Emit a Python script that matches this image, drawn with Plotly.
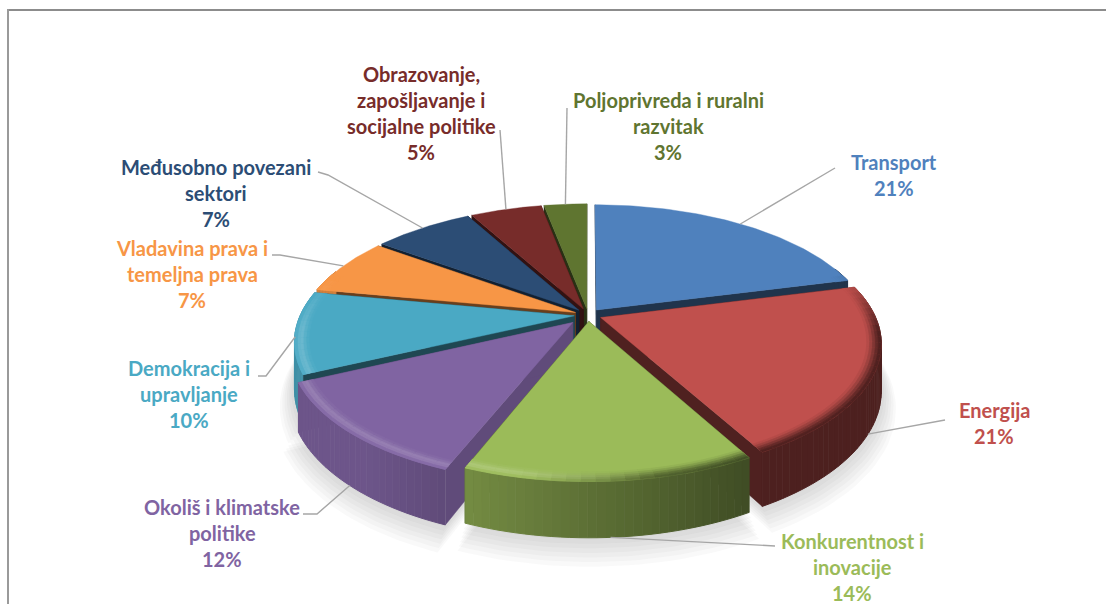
import numpy as np
import plotly.graph_objects as go

# ---- data ----
categories = ["Transport", "Energija", "Konkurentnost i inovacije", "Okoliš i klimatske politike",
              "Demokracija i upravljanje", "Vladavina prava i temeljna prava",
              "Međusobno povezani sektori", "Obrazovanje, zapošljavanje i socijalne politike",
              "Poljoprivreda i ruralni razvitak"]
shares = [21, 21, 14, 12, 10, 7, 7, 5, 3]

# ---- style ----
colors = ["#4F81BD", "#C0504D", "#9BBB59", "#8064A2", "#4AA9C4", "#F79646", "#2C4D75", "#772C2A", "#5F7530"]
label_lines = [["Transport"], ["Energija"], ["Konkurentnost i", "inovacije"],
               ["Okoliš i klimatske", "politike"], ["Demokracija i", "upravljanje"],
               ["Vladavina prava i", "temeljna prava"], ["Međusobno povezani", "sektori"],
               ["Obrazovanje,", "zapošljavanje i", "socijalne politike"],
               ["Poljoprivreda i ruralni", "razvitak"]]
label_x = [894, 994, 852, 222, 189, 192, 216, 421, 668]
label_y = [162, 410, 541, 507, 368, 248, 167, 74, 100]
line_gap = 26
leader_depth = [0, 1, 1, 1, 0.1, 0, 0, 0, 0]
leader_shift_deg = [0, 5, 0, 0, 0, 0, 0, 0, 0]
leader_tail = [[(835, 168)], [(945, 420)], [(775, 546)], [(317, 514), (303, 514)],
               [(266, 376), (258, 376)], [(280, 255), (272, 255)], [(328, 175), (318, 172)],
               [(500, 130)], [(567, 108)]]
cut_shade = [0.40, 0.41, 0.42, 0.75, 0.42, 0.42, 0.42, 0.42, 0.42]
explode = [0.05, 0.05, 0.05, 0.08, 0.05, 0.05, 0.05, 0.05, 0.05]
draw_order = [8, 7, 6, 5, 0, 4, 1, 3, 2]

CX, CY, RX, RY, P, H = 588, 315, 274, 127, 0.19, 45


def project(theta, r, z, mid, e):
    theta = np.asarray(theta, dtype=float)
    u = e * np.sin(mid) + r * np.sin(theta)
    v = -e * np.cos(mid) - r * np.cos(theta)
    k = 1 / (1 - P * v)
    return CX + RX * u * k, CY + RY * v * k + z * H * k


def rgb(c):
    return np.array([int(c[i:i + 2], 16) for i in (1, 3, 5)], dtype=float)


def css(c):
    c = np.clip(c, 0, 255).round().astype(int)
    return f"rgb({c[0]},{c[1]},{c[2]})"


fig = go.Figure()


def poly(x, y, color, width=1.0):
    fig.add_trace(go.Scatter(x=list(x), y=list(y), mode="lines", fill="toself", fillcolor=color,
                             line=dict(color=color, width=width), hoverinfo="skip", showlegend=False))


fracs = np.array(shares, dtype=float) / sum(shares)
ends = np.cumsum(fracs) * 2 * np.pi
starts = ends - fracs * 2 * np.pi
mids = (starts + ends) / 2


def wall_shade(c):
    return np.clip(0.6 - 0.4 * np.sin(c), 0.4, 0.85)


# soft ground shadow
for i in range(7):
    scale = 1.05 - i * 0.008
    z = 1.32 - i * 0.05
    for s in range(len(shares)):
        th = np.linspace(starts[s], ends[s], 30)
        x, y = project(th, scale, z, mids[s], explode[s])
        ax, ay = project([0], 0, z, mids[s], explode[s])
        poly(np.r_[ax, x], np.r_[ay, y], "rgba(90,90,90,0.035)", 0)

for s in draw_order:
    base = rgb(colors[s])
    t1, t2, m, e = starts[s], ends[s], mids[s], explode[s]
    dark = base * cut_shade[s]

    # cut faces
    for t in (t1, t2):
        xa, ya = project([t], 0, 0, m, e)
        xb, yb = project([t], 1, 0, m, e)
        xc, yc = project([t], 1, 1, m, e)
        xd, yd = project([t], 0, 1, m, e)
        poly(np.r_[xa, xb, xc, xd, xa], np.r_[ya, yb, yc, yd, ya], css(dark), 0.5)

    # outer wall as graded strips
    n = max(2, int(np.degrees(t2 - t1) / 1.5))
    edges = np.linspace(t1, t2, n + 1)
    for a, b in zip(edges[:-1], edges[1:]):
        c = (a + b) / 2
        if -np.cos(c) < -0.35:
            continue
        th = np.linspace(a, b, 3)
        xt, yt = project(th, 1, 0, m, e)
        xb, yb = project(th[::-1], 1, 1, m, e)
        poly(np.r_[xt, xb], np.r_[yt, yb], css(base * wall_shade(c)), 1.0)

    # top face
    th = np.linspace(t1, t2, 80)
    x, y = project(th, 1, 0, m, e)
    ax, ay = project([t1], 0, 0, m, e)
    poly(np.r_[ax, x, ax], np.r_[ay, y, ay], css(base), 0.4)

    # bevel along the rim
    radii = np.array([0.95, 0.96, 0.97, 0.98, 0.99, 1.0])
    w_light = [0.12, 0.35, 0.7, 0.6, 0.2]
    w_dark = [0.1, 0.3, 0.55, 0.8, 0.97]
    seg = max(2, int(np.degrees(t2 - t1) / 2.5))
    edges = np.linspace(t1, t2, seg + 1)
    for a, b in zip(edges[:-1], edges[1:]):
        c = (a + b) / 2
        strength = np.clip((-np.cos(c) + 0.3) / 0.4, 0, 1)
        if strength <= 0:
            continue
        side = np.clip((np.sin(c) + 0.2) / 0.4, 0, 1)
        wallc = base * wall_shade(c)
        lightc = base + (255 - base) * 0.25
        for i in range(len(w_light)):
            col_l = base + (lightc - base) * w_light[i] * strength
            col_d = base + (wallc - base) * w_dark[i] * strength
            col = col_l * (1 - side) + col_d * side
            th = np.linspace(a, b, 3)
            xo, yo = project(th, radii[i + 1], 0, m, e)
            xi, yi = project(th[::-1], radii[i], 0, m, e)
            poly(np.r_[xo, xi], np.r_[yo, yi], css(col), 0.7)

# leader lines: start on the slice edge, end beside the label
for s in range(len(shares)):
    x0, y0 = project([mids[s] + np.radians(leader_shift_deg[s])], 1, leader_depth[s], mids[s], explode[s])
    xs = [float(x0[0])] + [p[0] for p in leader_tail[s]]
    ys = [float(y0[0])] + [p[1] for p in leader_tail[s]]
    fig.add_trace(go.Scatter(x=xs, y=ys, mode="lines", line=dict(color="#A6A6A6", width=1.4),
                             hoverinfo="skip", showlegend=False))

# labels
for s in range(len(shares)):
    lines = label_lines[s] + [f"{shares[s]}%"]
    for i, txt in enumerate(lines):
        fig.add_annotation(x=label_x[s], y=label_y[s] + i * line_gap, text=f"<b>{txt}</b>", showarrow=False,
                           xanchor="center", yanchor="middle",
                           font=dict(family="Lato", size=20, color=colors[s]))

# frame of the chart area, cropped on the right and bottom
fig.add_shape(type="line", x0=8, x1=1106, y0=10, y1=10, line=dict(color="#8C8C8C", width=2))
fig.add_shape(type="line", x0=8, x1=8, y0=9, y1=604, line=dict(color="#9A9A9A", width=2))

fig.update_layout(width=1106, height=604, margin=dict(l=0, r=0, t=0, b=0), paper_bgcolor="white",
                  plot_bgcolor="white", showlegend=False,
                  xaxis=dict(range=[0, 1106], visible=False, fixedrange=True),
                  yaxis=dict(range=[604, 0], visible=False, fixedrange=True))
fig.write_html("out.html", config={"displayModeBar": False, "responsive": False},
               post_script="document.body.style.margin='0';document.body.style.overflow='hidden';")
